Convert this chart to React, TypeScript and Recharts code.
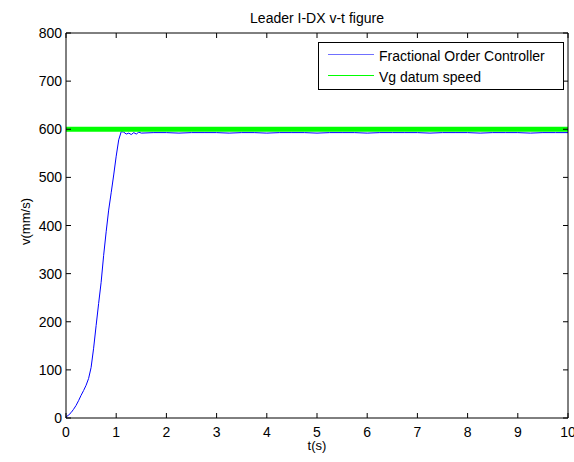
import React from 'react';
import { LineChart, Line, XAxis, YAxis, Legend } from 'recharts';

const title = 'Leader I-DX v-t figure';
const xLabel = 't(s)';
const yLabel = 'v(mm/s)';
const seriesNames = ['Fractional Order Controller', 'Vg datum speed'];
const seriesColors = ['#0000ff', '#00ff00'];
const legendSampleColors = ['#7070ff', '#00ff00'];

const xTicks = [0, 1, 2, 3, 4, 5, 6, 7, 8, 9, 10];
const yTicks = [0, 100, 200, 300, 400, 500, 600, 700, 800];

const tFoc = [
  0, 0.05, 0.1, 0.15, 0.2, 0.25, 0.3, 0.35, 0.4, 0.45, 0.5, 0.55, 0.6, 0.65, 0.7, 0.75,
  0.8, 0.85, 0.9, 0.95, 1.0, 1.05, 1.1, 1.15, 1.2, 1.25, 1.3, 1.35, 1.4, 1.45, 1.5,
  1.75, 2.0, 2.25, 2.5, 2.75, 3.0, 3.25, 3.5, 3.75, 4.0, 4.25, 4.5, 4.75, 5.0, 5.25,
  5.5, 5.75, 6.0, 6.25, 6.5, 6.75, 7.0, 7.25, 7.5, 7.75, 8.0, 8.25, 8.5, 8.75, 9.0,
  9.25, 9.5, 9.75, 10.0,
];
const vFoc = [
  2, 6, 11, 18, 26, 36, 47, 57, 68, 82, 105, 145, 192, 238, 282, 338,
  387, 432, 468, 505, 544, 578, 595, 594, 590, 592, 589, 593, 590, 594, 592,
  593, 593, 592, 593, 593, 593, 592, 593, 593, 592, 593, 593, 593, 592, 593,
  593, 593, 592, 593, 593, 593, 593, 592, 593, 593, 593, 592, 593, 593, 593,
  592, 593, 593, 593,
];
const tRef = [0, 10];
const vRef = [600, 600];

const focData = tFoc.map((t, i) => ({ t, v: vFoc[i] }));
const refData = tRef.map((t, i) => ({ t, v: vRef[i] }));

const FONT = '"Liberation Sans", Arial, sans-serif';

const BottomTick = (props: any) => {
  const { x, y, payload } = props;
  return (
    <g>
      <line x1={x} y1={y} x2={x} y2={y - 5} stroke="#000" strokeWidth={1} />
      <text x={x} y={y + 19} textAnchor="middle" fontSize={14} fontFamily={FONT} fill="#000">
        {payload.value}
      </text>
    </g>
  );
};

const TopTick = (props: any) => {
  const { x, y } = props;
  return <line x1={x} y1={y} x2={x} y2={y + 5} stroke="#000" strokeWidth={1} />;
};

const LeftTick = (props: any) => {
  const { x, y, payload } = props;
  return (
    <g>
      <line x1={x} y1={y} x2={x + 5} y2={y} stroke="#000" strokeWidth={1} />
      <text x={x - 4} y={y + 5} textAnchor="end" fontSize={14} fontFamily={FONT} fill="#000">
        {payload.value}
      </text>
    </g>
  );
};

const RightTick = (props: any) => {
  const { x, y } = props;
  return <line x1={x} y1={y} x2={x - 5} y2={y} stroke="#000" strokeWidth={1} />;
};

const LegendBox = () => (
  <svg width={247} height={49} style={{ display: 'block' }}>
    <rect x={0.5} y={0.5} width={245} height={47} fill="#fff" stroke="#000" strokeWidth={1} />
    {seriesNames.map((name, i) => (
      <g key={name}>
        <line
          x1={10}
          x2={56}
          y1={12.5 + i * 21}
          y2={12.5 + i * 21}
          stroke={legendSampleColors[i]}
          strokeWidth={1}
        />
        <text x={61} y={19 + i * 21} fontSize={14} fontFamily={FONT} fill="#000">
          {name}
        </text>
      </g>
    ))}
  </svg>
);

export default function App() {
  return (
    <div style={{ position: 'absolute', left: 0, top: 0, width: 574, height: 462, background: '#fff' }}>
      <LineChart
        width={574}
        height={462}
        margin={{ top: 32, right: 5, bottom: 0, left: 0 }}
        style={{ background: '#fff' }}
      >
        <XAxis
          xAxisId={0}
          dataKey="t"
          type="number"
          domain={[0, 10]}
          ticks={xTicks}
          allowDataOverflow
          height={44}
          tickSize={0}
          tickMargin={0}
          tickLine={false}
          axisLine={{ stroke: '#000', strokeWidth: 1 }}
          tick={BottomTick}
          interval={0}
          label={{
            content: (p: any) => (
              <text
                x={p.viewBox.x + p.viewBox.width / 2}
                y={p.viewBox.y + 32}
                textAnchor="middle"
                fontSize={13}
                fontFamily={FONT}
                fill="#000"
              >
                {xLabel}
              </text>
            ),
          }}
        />
        <XAxis
          xAxisId="top"
          orientation="top"
          dataKey="t"
          type="number"
          domain={[0, 10]}
          ticks={xTicks}
          allowDataOverflow
          height={1}
          tickSize={0}
          tickMargin={0}
          tickLine={false}
          axisLine={{ stroke: '#000', strokeWidth: 1 }}
          tick={TopTick}
          interval={0}
          label={{
            content: (p: any) => (
              <text
                x={p.viewBox.x + p.viewBox.width / 2}
                y={p.viewBox.y - 9}
                textAnchor="middle"
                fontSize={14}
                fontFamily={FONT}
                fill="#000"
              >
                {title}
              </text>
            ),
          }}
        />
        <YAxis
          yAxisId={0}
          type="number"
          domain={[0, 800]}
          ticks={yTicks}
          allowDataOverflow
          width={66}
          tickSize={0}
          tickMargin={0}
          tickLine={false}
          axisLine={{ stroke: '#000', strokeWidth: 1 }}
          tick={LeftTick}
          interval={0}
          label={{
            content: (p: any) => {
              const cx = 30;
              const cy = p.viewBox.y + p.viewBox.height / 2 - 4;
              return (
                <text
                  x={cx}
                  y={cy}
                  transform={`rotate(-90 ${cx} ${cy})`}
                  textAnchor="middle"
                  fontSize={13}
                  fontFamily={FONT}
                  fill="#000"
                >
                  {yLabel}
                </text>
              );
            },
          }}
        />
        <YAxis
          yAxisId="right"
          orientation="right"
          type="number"
          domain={[0, 800]}
          ticks={yTicks}
          allowDataOverflow
          width={1}
          tickSize={0}
          tickMargin={0}
          tickLine={false}
          axisLine={{ stroke: '#000', strokeWidth: 1 }}
          tick={RightTick}
          interval={0}
        />
        <Line
          data={focData}
          dataKey="v"
          name={seriesNames[0]}
          stroke={seriesColors[0]}
          strokeWidth={1}
          dot={false}
          activeDot={false}
          isAnimationActive={false}
          type="linear"
        />
        <Line
          data={refData}
          dataKey="v"
          name={seriesNames[1]}
          stroke={seriesColors[1]}
          strokeWidth={5}
          dot={false}
          activeDot={false}
          isAnimationActive={false}
          type="linear"
        />
        <Legend
          layout="vertical"
          align="center"
          verticalAlign="middle"
          wrapperStyle={{ position: 'absolute', left: 318, top: 42, width: 247, height: 49, margin: 0, padding: 0 }}
          content={() => <LegendBox />}
        />
      </LineChart>
    </div>
  );
}
